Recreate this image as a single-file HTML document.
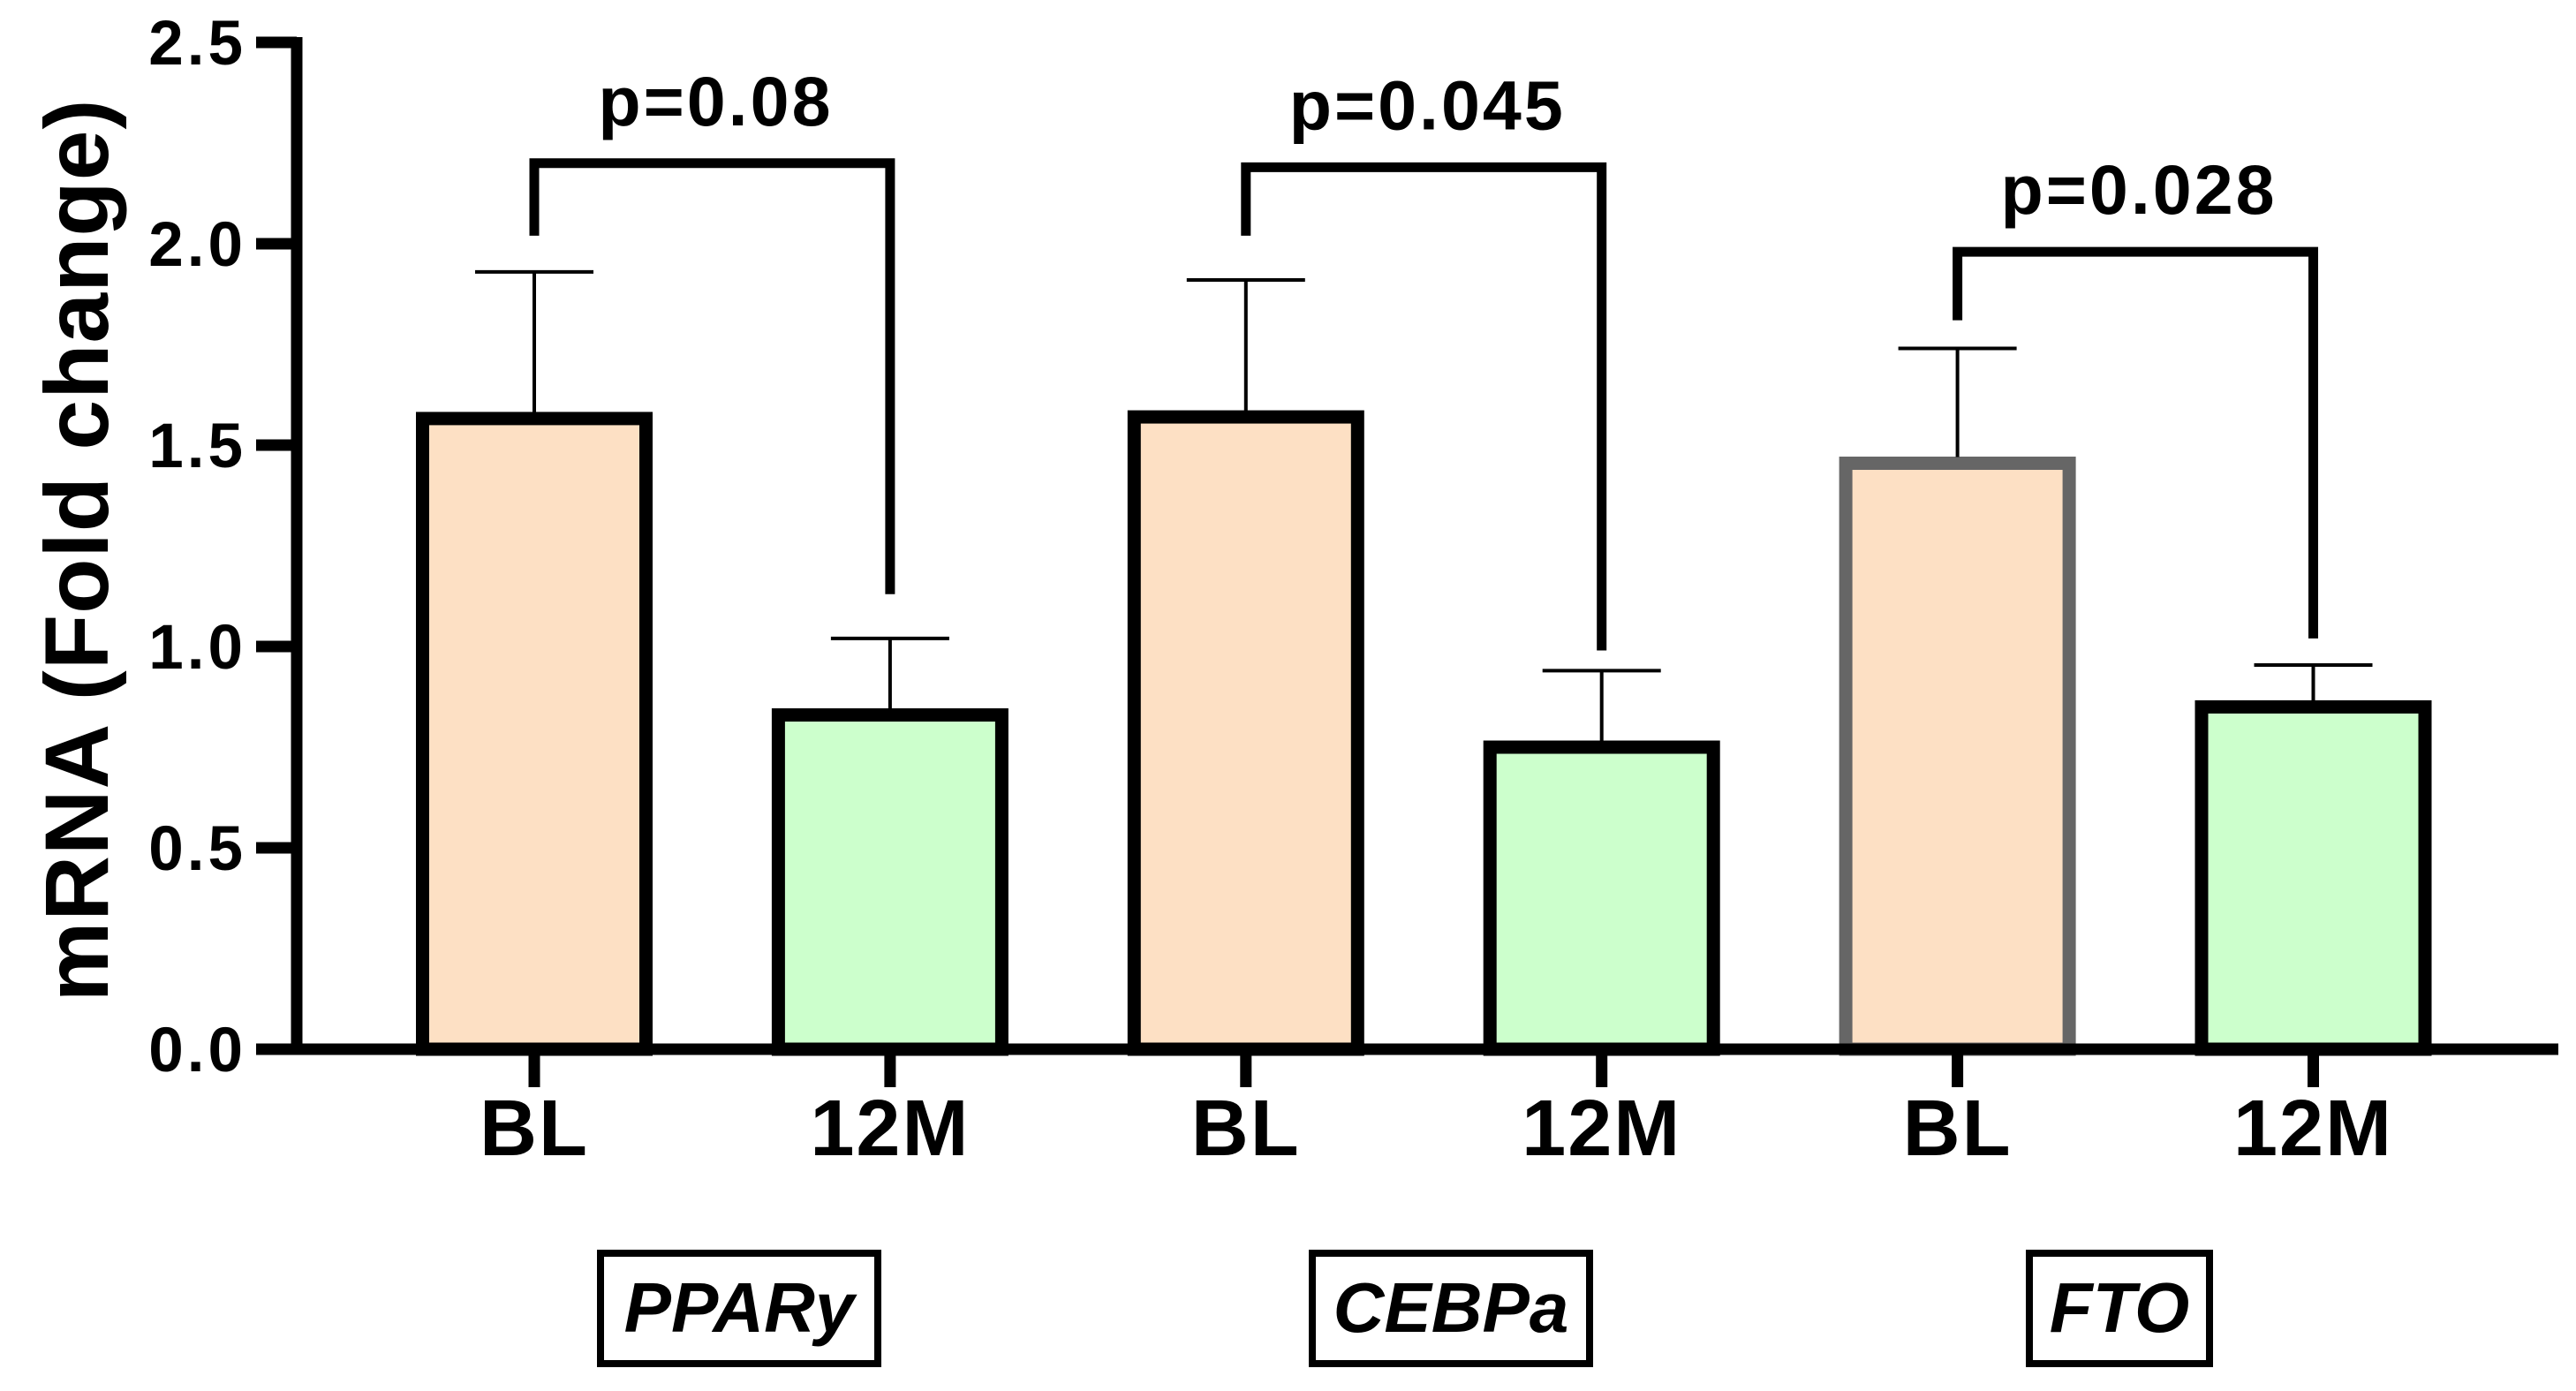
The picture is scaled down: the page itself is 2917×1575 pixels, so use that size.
<!DOCTYPE html>
<html><head><meta charset="utf-8"><style>
html,body{margin:0;padding:0;background:#fff;}
svg{display:block;font-family:"Liberation Sans",Arial,sans-serif;}
</style></head><body>
<svg id="chart" width="2917" height="1575" viewBox="0 0 2917 1575" xmlns="http://www.w3.org/2000/svg">
<g id="g"></g>
</svg>
<script>
const categories = ["BL","12M","BL","12M","BL","12M"];
const values = [1.566, 0.83, 1.57, 0.75, 1.455, 0.85];
const errors = [1.93, 1.02, 1.91, 0.94, 1.74, 0.954];
const yTicks = [0, 0.5, 1.0, 1.5, 2.0, 2.5];
const yTickLabels = ["0.0","0.5","1.0","1.5","2.0","2.5"];
const genes = ["PPARy","CEBPa","FTO"];
const pLabels = ["p=0.08","p=0.045","p=0.028"];
const bracketTop = [2.2, 2.19, 1.98];
const bracketLeft = [2.02, 2.02, 1.81];
const bracketRight = [1.13, 0.99, 1.02];

const NS = "http://www.w3.org/2000/svg";
const g = document.getElementById('g');
const y0 = 1188, yScale = 456;
function yPos(v){ return y0 - v*yScale; }
function xPos(i){ return 605 + i*402.9; }
function el(tag, attrs, parent){
  const e = document.createElementNS(NS, tag);
  for (const k in attrs) e.setAttribute(k, attrs[k]);
  (parent||g).appendChild(e);
  return e;
}
const barW = 253;
categories.forEach((c,i)=>{
  const x = xPos(i);
  const isBL = i%2===0;
  const bar = el('rect',{x:x-barW/2, y:yPos(values[i]), width:barW, height:y0-yPos(values[i]),
    fill: isBL ? '#FDE0C4' : '#CCFFCC', stroke: i===4 ? '#666666' : '#000', 'stroke-width':15});
  
  
  const eb = el('path',{d:`M${x} ${yPos(values[i])-7} V${yPos(errors[i])} M${x-67} ${yPos(errors[i])} H${x+67}`, stroke:'#000', 'stroke-width':4, fill:'none'});
  
  
  const t = el('line',{x1:x, x2:x, y1:y0, y2:1231, stroke:'#000', 'stroke-width':13});
  
  
  const lbl = el('text',{x:x, y:1308, 'text-anchor':'middle', 'font-size':90, 'font-weight':'bold', 'letter-spacing':2, fill:'#000'});
  lbl.textContent = c;
  
  
});
const ya = el('line',{x1:336, x2:336, y1:42, y2:1194, stroke:'#000','stroke-width':13});


const xa = el('line',{x1:330, x2:2897, y1:y0, y2:y0, stroke:'#000','stroke-width':13});


yTicks.forEach((v,i)=>{
  const tk = el('line',{x1:290, x2:336, y1:yPos(v), y2:yPos(v), stroke:'#000','stroke-width':13});
  
  
  const tl = el('text',{x:279, y:yPos(v)+25, 'text-anchor':'end', 'font-size':71, 'font-weight':'bold', 'letter-spacing':4, fill:'#000'});
  tl.textContent = yTickLabels[i];
  
  
});
const yt = el('text',{x:0, y:0, transform:'translate(122,623) rotate(-90)', 'text-anchor':'middle', 'font-size':102, 'font-weight':'bold', 'letter-spacing':1, fill:'#000'});
yt.textContent = 'mRNA (Fold change)';


const boxCenters = [837, 1643, 2400];
const boxWidths = [322, 322, 212];
genes.forEach((gn,k)=>{
  const xl = xPos(2*k), xr = xPos(2*k+1);
  const br = el('path',{d:`M${xl} ${yPos(bracketLeft[k])} V${yPos(bracketTop[k])} H${xr} V${yPos(bracketRight[k])}`, stroke:'#000','stroke-width':11, fill:'none'});
  
  
  const pl = el('text',{x:(xl+xr)/2+4, y:yPos(bracketTop[k])-43, 'text-anchor':'middle', 'font-size':79, 'font-weight':'bold', 'letter-spacing':3, fill:'#000'});
  pl.textContent = pLabels[k];
  
  
  const bx = el('rect',{x:boxCenters[k]-boxWidths[k]/2+4, y:1419, width:boxWidths[k]-8, height:125, fill:'#fff', stroke:'#000','stroke-width':8});
  
  
  const gt = el('text',{x:boxCenters[k], y:1508, 'text-anchor':'middle', 'font-size':80, 'font-weight':'bold', 'font-style':'italic', fill:'#000'});
  gt.textContent = gn;
  
  
});
</script>
</body></html>
